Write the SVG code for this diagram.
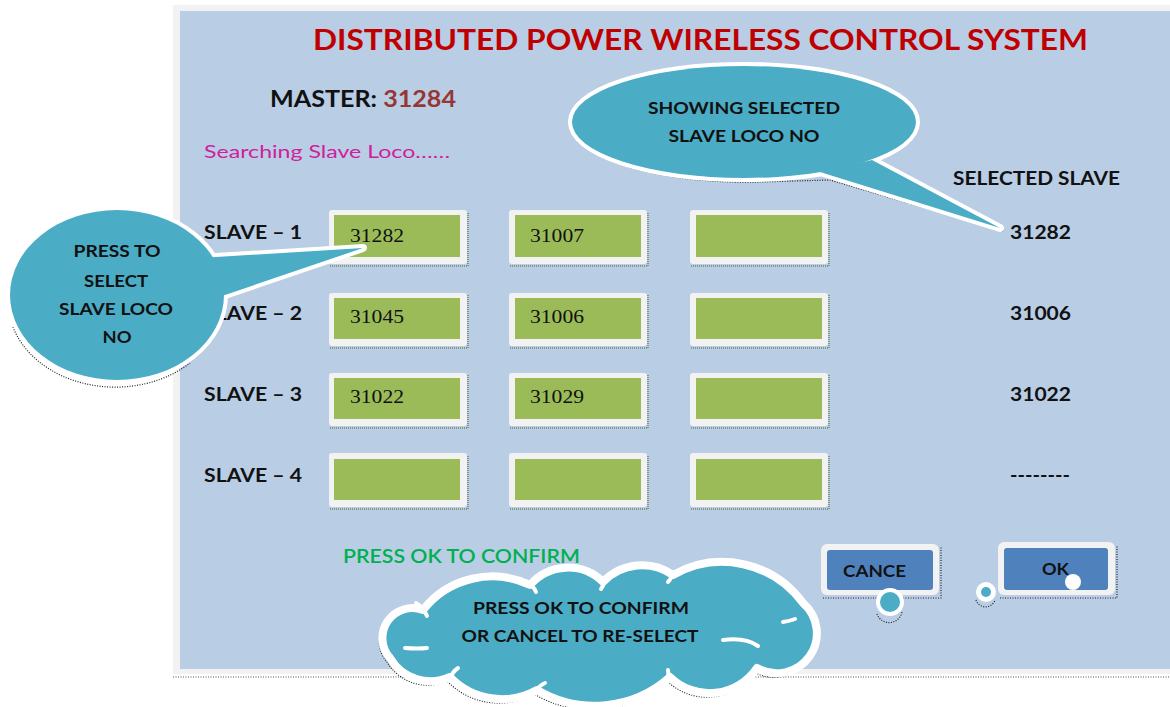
<svg xmlns="http://www.w3.org/2000/svg" width="1170" height="707" viewBox="0 0 1170 707">
<defs>
<style>
.t{font-family:Lato,"Open Sans","Liberation Sans",sans-serif;font-weight:bold;fill:#111;}
.lbl{font-size:19.5px;}
.num{font-family:"Liberation Serif","DejaVu Serif",serif;font-size:19px;fill:#111;}
.bt{font-size:17px;fill:#111;}
.box-o{fill:#F2F2F2;}
.box-i{fill:#9BBB59;}
.box-sh{fill:none;stroke:#4F6228;stroke-width:1;stroke-dasharray:1 1;}
.bub{fill:#4BACC6;}
.bubw{fill:#4BACC6;stroke:#FFFFFF;stroke-width:8;stroke-linejoin:round;}
.sh{fill:none;stroke:#222;stroke-width:1.2;stroke-dasharray:1 1.5;}
.crease{fill:none;stroke:#FFFFFF;stroke-width:4;stroke-linecap:round;}
.btn-o{fill:#F2F2F2;}
.btn-i{fill:#4F81BD;}
</style>
</defs>

<!-- panel -->
<g id="panel">
<rect x="173" y="5" width="1000" height="669" fill="#F2F2F2"/>
<rect x="180" y="11" width="993" height="658" fill="#B9CDE5"/>
<line x1="173" y1="677" x2="1170" y2="677" stroke="#555" stroke-width="1.2" stroke-dasharray="1 1.5"/>
</g>

<g id="title">
<text x="313" y="50" class="t" style="font-size:28px;fill:#C00000" textLength="775" lengthAdjust="spacingAndGlyphs">DISTRIBUTED POWER WIRELESS CONTROL SYSTEM</text>
</g>

<g id="master">
<text x="270" y="107" class="t" style="font-size:22px" textLength="186" lengthAdjust="spacingAndGlyphs">MASTER: <tspan fill="#953735">31284</tspan></text>
</g>

<g id="searching">
<text x="204" y="158" class="t" style="font-size:18px;fill:#D0209C;font-weight:normal" textLength="246" lengthAdjust="spacingAndGlyphs">Searching Slave Loco……</text>
</g>

<g id="selected-header">
<text x="953" y="185" class="t lbl" textLength="167" lengthAdjust="spacingAndGlyphs">SELECTED SLAVE</text>
</g>

<!-- slave labels -->
<g id="slave-labels">
<text x="204" y="239" class="t lbl" textLength="98" lengthAdjust="spacingAndGlyphs">SLAVE – 1</text>
<text x="204" y="320" class="t lbl" textLength="98" lengthAdjust="spacingAndGlyphs">SLAVE – 2</text>
<text x="204" y="401" class="t lbl" textLength="98" lengthAdjust="spacingAndGlyphs">SLAVE – 3</text>
<text x="204" y="482" class="t lbl" textLength="98" lengthAdjust="spacingAndGlyphs">SLAVE – 4</text>
</g>

<!-- boxes -->
<g id="box-r1c1"><path class="box-sh" d="M330,266 H468 V212"/><rect class="box-o" x="329" y="210" width="138" height="54" rx="3"/><rect class="box-i" x="334" y="215" width="126" height="42"/><text x="350" y="242" class="num" textLength="54" lengthAdjust="spacingAndGlyphs">31282</text></g>
<g id="box-r1c2"><path class="box-sh" d="M510,266 H648 V212"/><rect class="box-o" x="509" y="210" width="138" height="54" rx="3"/><rect class="box-i" x="515" y="215" width="126" height="42"/><text x="530" y="242" class="num" textLength="54" lengthAdjust="spacingAndGlyphs">31007</text></g>
<g id="box-r1c3"><path class="box-sh" d="M691,266 H829 V212"/><rect class="box-o" x="690" y="210" width="138" height="54" rx="3"/><rect class="box-i" x="696" y="215" width="126" height="42"/></g>

<g id="box-r2c1"><path class="box-sh" d="M330,348 H468 V295"/><rect class="box-o" x="329" y="293" width="138" height="53" rx="3"/><rect class="box-i" x="334" y="298" width="126" height="41"/><text x="350" y="323" class="num" textLength="54" lengthAdjust="spacingAndGlyphs">31045</text></g>
<g id="box-r2c2"><path class="box-sh" d="M510,348 H648 V295"/><rect class="box-o" x="509" y="293" width="138" height="53" rx="3"/><rect class="box-i" x="515" y="298" width="126" height="41"/><text x="530" y="323" class="num" textLength="54" lengthAdjust="spacingAndGlyphs">31006</text></g>
<g id="box-r2c3"><path class="box-sh" d="M691,348 H829 V295"/><rect class="box-o" x="690" y="293" width="138" height="53" rx="3"/><rect class="box-i" x="696" y="298" width="126" height="41"/></g>

<g id="box-r3c1"><path class="box-sh" d="M330,428 H468 V375"/><rect class="box-o" x="329" y="373" width="138" height="53" rx="3"/><rect class="box-i" x="334" y="378" width="126" height="41"/><text x="350" y="403" class="num" textLength="54" lengthAdjust="spacingAndGlyphs">31022</text></g>
<g id="box-r3c2"><path class="box-sh" d="M510,428 H648 V375"/><rect class="box-o" x="509" y="373" width="138" height="53" rx="3"/><rect class="box-i" x="515" y="378" width="126" height="41"/><text x="530" y="403" class="num" textLength="54" lengthAdjust="spacingAndGlyphs">31029</text></g>
<g id="box-r3c3"><path class="box-sh" d="M691,428 H829 V375"/><rect class="box-o" x="690" y="373" width="138" height="53" rx="3"/><rect class="box-i" x="696" y="378" width="126" height="41"/></g>

<g id="box-r4c1"><path class="box-sh" d="M330,509 H468 V455"/><rect class="box-o" x="329" y="453" width="138" height="54" rx="3"/><rect class="box-i" x="334" y="459" width="126" height="41"/></g>
<g id="box-r4c2"><path class="box-sh" d="M510,509 H648 V455"/><rect class="box-o" x="509" y="453" width="138" height="54" rx="3"/><rect class="box-i" x="515" y="459" width="126" height="41"/></g>
<g id="box-r4c3"><path class="box-sh" d="M691,509 H829 V455"/><rect class="box-o" x="690" y="453" width="138" height="54" rx="3"/><rect class="box-i" x="696" y="459" width="126" height="41"/></g>

<!-- selected values -->
<g id="selected-values">
<text x="1010" y="239" class="t lbl" textLength="61" lengthAdjust="spacingAndGlyphs">31282</text>
<text x="1010" y="320" class="t lbl" textLength="61" lengthAdjust="spacingAndGlyphs">31006</text>
<text x="1010" y="401" class="t lbl" textLength="61" lengthAdjust="spacingAndGlyphs">31022</text>
<text x="1010" y="482" class="t lbl" textLength="60" lengthAdjust="spacingAndGlyphs">--------</text>
</g>

<g id="confirm-label">
<text x="343" y="563" class="t" style="font-size:18.5px;fill:#00B050;font-weight:600" textLength="237" lengthAdjust="spacingAndGlyphs">PRESS OK TO CONFIRM</text>
</g>

<!-- buttons -->
<g id="btn-cancel">
<path class="sh" d="M823,598 H941 V547"/>
<rect class="btn-o" x="821" y="544" width="118" height="51" rx="6"/>
<rect class="btn-i" x="827" y="550" width="106" height="40" rx="3"/>
<text x="843" y="577" class="t bt" textLength="63" lengthAdjust="spacingAndGlyphs">CANCE</text>
</g>
<g id="btn-ok">
<path class="sh" d="M1000,598 H1117 V545"/>
<rect class="btn-o" x="998" y="542" width="117" height="53" rx="6"/>
<rect class="btn-i" x="1004" y="548" width="104" height="42" rx="3"/>
<text x="1042" y="575" class="t bt" textLength="27" lengthAdjust="spacingAndGlyphs">OK</text>
</g>

<!-- callout: showing selected -->
<g id="callout-selected">
<path class="sh" d="M575,130 A172 56 0 0 0 760,182 L830,180 L1003,231"/>
<ellipse class="bubw" cx="744" cy="122" rx="172" ry="56"/>
<polygon class="bubw" points="820,172 1000,228 872,160"/>
<ellipse class="bub" cx="744" cy="122" rx="172" ry="56"/>
<polygon class="bub" points="820,172 1000,228 872,160"/>
<text x="744" y="114" class="t bt" text-anchor="middle" textLength="192" lengthAdjust="spacingAndGlyphs">SHOWING SELECTED</text>
<text x="744" y="142" class="t bt" text-anchor="middle" textLength="151" lengthAdjust="spacingAndGlyphs">SLAVE LOCO NO</text>
</g>

<!-- callout: press to select -->
<g id="callout-press">
<path class="sh" d="M13,327 A107 85 0 0 0 190,363"/>
<ellipse class="bubw" cx="117" cy="295" rx="107" ry="85"/>
<polygon class="bubw" points="200,258 363,248 222,296"/>
<ellipse class="bub" cx="117" cy="295" rx="107" ry="85"/>
<polygon class="bub" points="200,258 363,248 222,296"/>
<text x="117" y="257" class="t bt" text-anchor="middle" textLength="87" lengthAdjust="spacingAndGlyphs">PRESS TO</text>
<text x="116" y="287" class="t bt" text-anchor="middle" textLength="64" lengthAdjust="spacingAndGlyphs">SELECT</text>
<text x="116" y="315" class="t bt" text-anchor="middle" textLength="114" lengthAdjust="spacingAndGlyphs">SLAVE LOCO</text>
<text x="117" y="343" class="t bt" text-anchor="middle" textLength="29" lengthAdjust="spacingAndGlyphs">NO</text>
</g>

<!-- cloud -->
<g id="cloud">
<path class="sh" transform="translate(-3,4)" d="M423,610 A88 88 0 0 1 530,585 A50 50 0 0 1 603,582 A54 54 0 0 1 673,575 A100 100 0 0 1 803,603 A40 40 0 0 1 757,668 A57 57 0 0 1 670,677 A113 113 0 0 1 537,690 A72 72 0 0 1 450,677 A47 47 0 0 1 390,658 A30 30 0 0 1 423,610 Z"/>
<path class="bubw" d="M423,610 A88 88 0 0 1 530,585 A50 50 0 0 1 603,582 A54 54 0 0 1 673,575 A100 100 0 0 1 803,603 A40 40 0 0 1 757,668 A57 57 0 0 1 670,677 A113 113 0 0 1 537,690 A72 72 0 0 1 450,677 A47 47 0 0 1 390,658 A30 30 0 0 1 423,610 Z"/>
<path class="crease" d="M416,603 Q424,608 427,616"/>
<path class="crease" d="M526,581 Q533,585 536,592"/>
<path class="crease" d="M604,578 Q605,584 601,589"/>
<path class="crease" d="M673,572 Q672,578 668,582"/>
<path class="crease" d="M783,622 Q790,621 795,619"/>
<path class="crease" d="M723,640 Q745,637 758,646"/>
<path class="crease" d="M668,682 Q669,676 668,670"/>
<path class="crease" d="M536,692 Q538,686 545,683"/>
<path class="crease" d="M450,679 Q452,672 458,668"/>
<path class="crease" d="M405,648 Q418,649 427,648"/>
<text x="581" y="614" class="t bt" text-anchor="middle" textLength="216" lengthAdjust="spacingAndGlyphs">PRESS OK TO CONFIRM</text>
<text x="580" y="642" class="t bt" text-anchor="middle" textLength="237" lengthAdjust="spacingAndGlyphs">OR CANCEL TO RE-SELECT</text>
<path class="sh" d="M877,614 A13 13 0 0 0 902,612"/>
<circle cx="890" cy="602" r="14" fill="#FFFFFF"/>
<circle cx="890" cy="602" r="10" fill="#4BACC6"/>
<path class="sh" d="M976,600 A10 10 0 0 0 995,600"/>
<circle cx="986" cy="592" r="10" fill="#FFFFFF"/>
<circle cx="986" cy="592" r="5" fill="#4BACC6"/>
<circle cx="1073" cy="582" r="8" fill="#FFFFFF"/>
</g>
</svg>
